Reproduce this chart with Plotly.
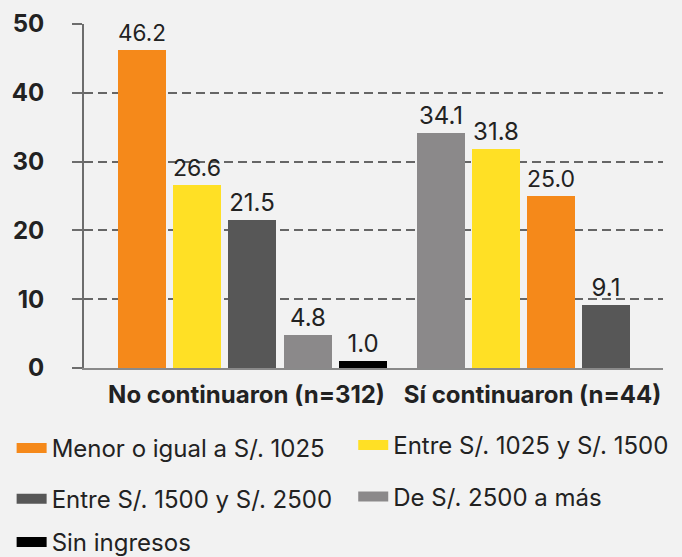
import plotly.graph_objects as go

groups = ["No continuaron (n=312)", "Sí continuaron (n=44)"]
categories = ["Menor o igual a S/. 1025", "Entre S/. 1025 y S/. 1500",
              "Entre S/. 1500 y S/. 2500", "De S/. 2500 a más", "Sin ingresos"]
no_continuaron = [46.2, 26.6, 21.5, 4.8, 1.0]
si_continuaron = [25.0, 31.8, 9.1, 34.1, None]
colors = ["#F5891A", "#FFE025", "#575757", "#8B898A", "#000000"]

group_values = [no_continuaron, si_continuaron]
group_offsets = [0.0, 5.406]
label_positions = [1.897, 7.069]

# rank bars within each group (descending)
positions = [[None] * len(categories) for _ in groups]
for g, vals in enumerate(group_values):
    order = sorted([i for i, v in enumerate(vals) if v is not None], key=lambda i: -vals[i])
    for r, i in enumerate(order):
        positions[g][i] = group_offsets[g] + r

FONT = "Inter"
FS = 24
fig = go.Figure()
legend_names = ["legend", "legend2", "legend3", "legend4", "legend5"]
for i, cat in enumerate(categories):
    xs, ys, ts = [], [], []
    for g in range(len(groups)):
        v = group_values[g][i]
        if v is not None:
            xs.append(positions[g][i])
            ys.append(v)
            ts.append(f"{v:.1f}")
    fig.add_trace(go.Bar(
        x=xs, y=ys, text=ts, textposition="outside", width=0.868,
        marker=dict(color=colors[i], line=dict(width=0)),
        textfont=dict(family=FONT, size=FS, color="#222222"),
        cliponaxis=False, showlegend=False, name=cat, hoverinfo="skip"))
    # legend swatch trace
    fig.add_trace(go.Scatter(
        x=[None], y=[None], mode="lines", name=cat,
        line=dict(color=colors[i], width=16),
        legend=legend_names[i], showlegend=True))

# legend positions (paper coords)
legend_pos = [(-0.125, -0.234), (0.465, -0.225), (-0.125, -0.381), (0.465, -0.375), (-0.125, -0.507)]
legend_layout = {}
for name, (lx, ly) in zip(legend_names, legend_pos):
    legend_layout[name] = dict(x=lx, y=ly, xanchor="left", yanchor="middle",
                               bgcolor="rgba(0,0,0,0)", borderwidth=0,
                               font=dict(family=FONT, size=FS, color="#222222"))

fig.update_layout(
    width=682, height=557,
    margin=dict(l=84, r=19, t=24, b=189, autoexpand=False),
    paper_bgcolor="#f2f2f2", plot_bgcolor="#f2f2f2",
    font=dict(family=FONT, size=FS, color="#222222"),
    bargap=0,
    **legend_layout,
)
fig.update_xaxes(
    range=[-1.042, 9.429], tickmode="array", tickvals=label_positions,
    ticktext=[f"<b>{g}</b>" for g in groups],
    tickfont=dict(family=FONT, size=FS, color="#222222"),
    showgrid=False, zeroline=False,
    showline=True, linecolor="#8a8a8a", linewidth=2,
    ticks="", ticklabelstandoff=4,
)
fig.update_yaxes(
    range=[0, 50], tickvals=[0, 10, 20, 30, 40, 50],
    ticktext=[f"<b>{v}</b>" for v in [0, 10, 20, 30, 40, 50]],
    tickfont=dict(family=FONT, size=FS, color="#222222"),
    showgrid=True, gridcolor="#666666", gridwidth=1.6, griddash="9px,5px",
    zeroline=False,
    showline=True, linecolor="#6d6d6d", linewidth=2,
    ticks="outside", ticklen=10, tickwidth=2, tickcolor="#6d6d6d",
    ticklabelstandoff=23,
)
fig.write_html("out.html", config={"displayModeBar": False},
               post_script="document.body.style.margin='0';")
